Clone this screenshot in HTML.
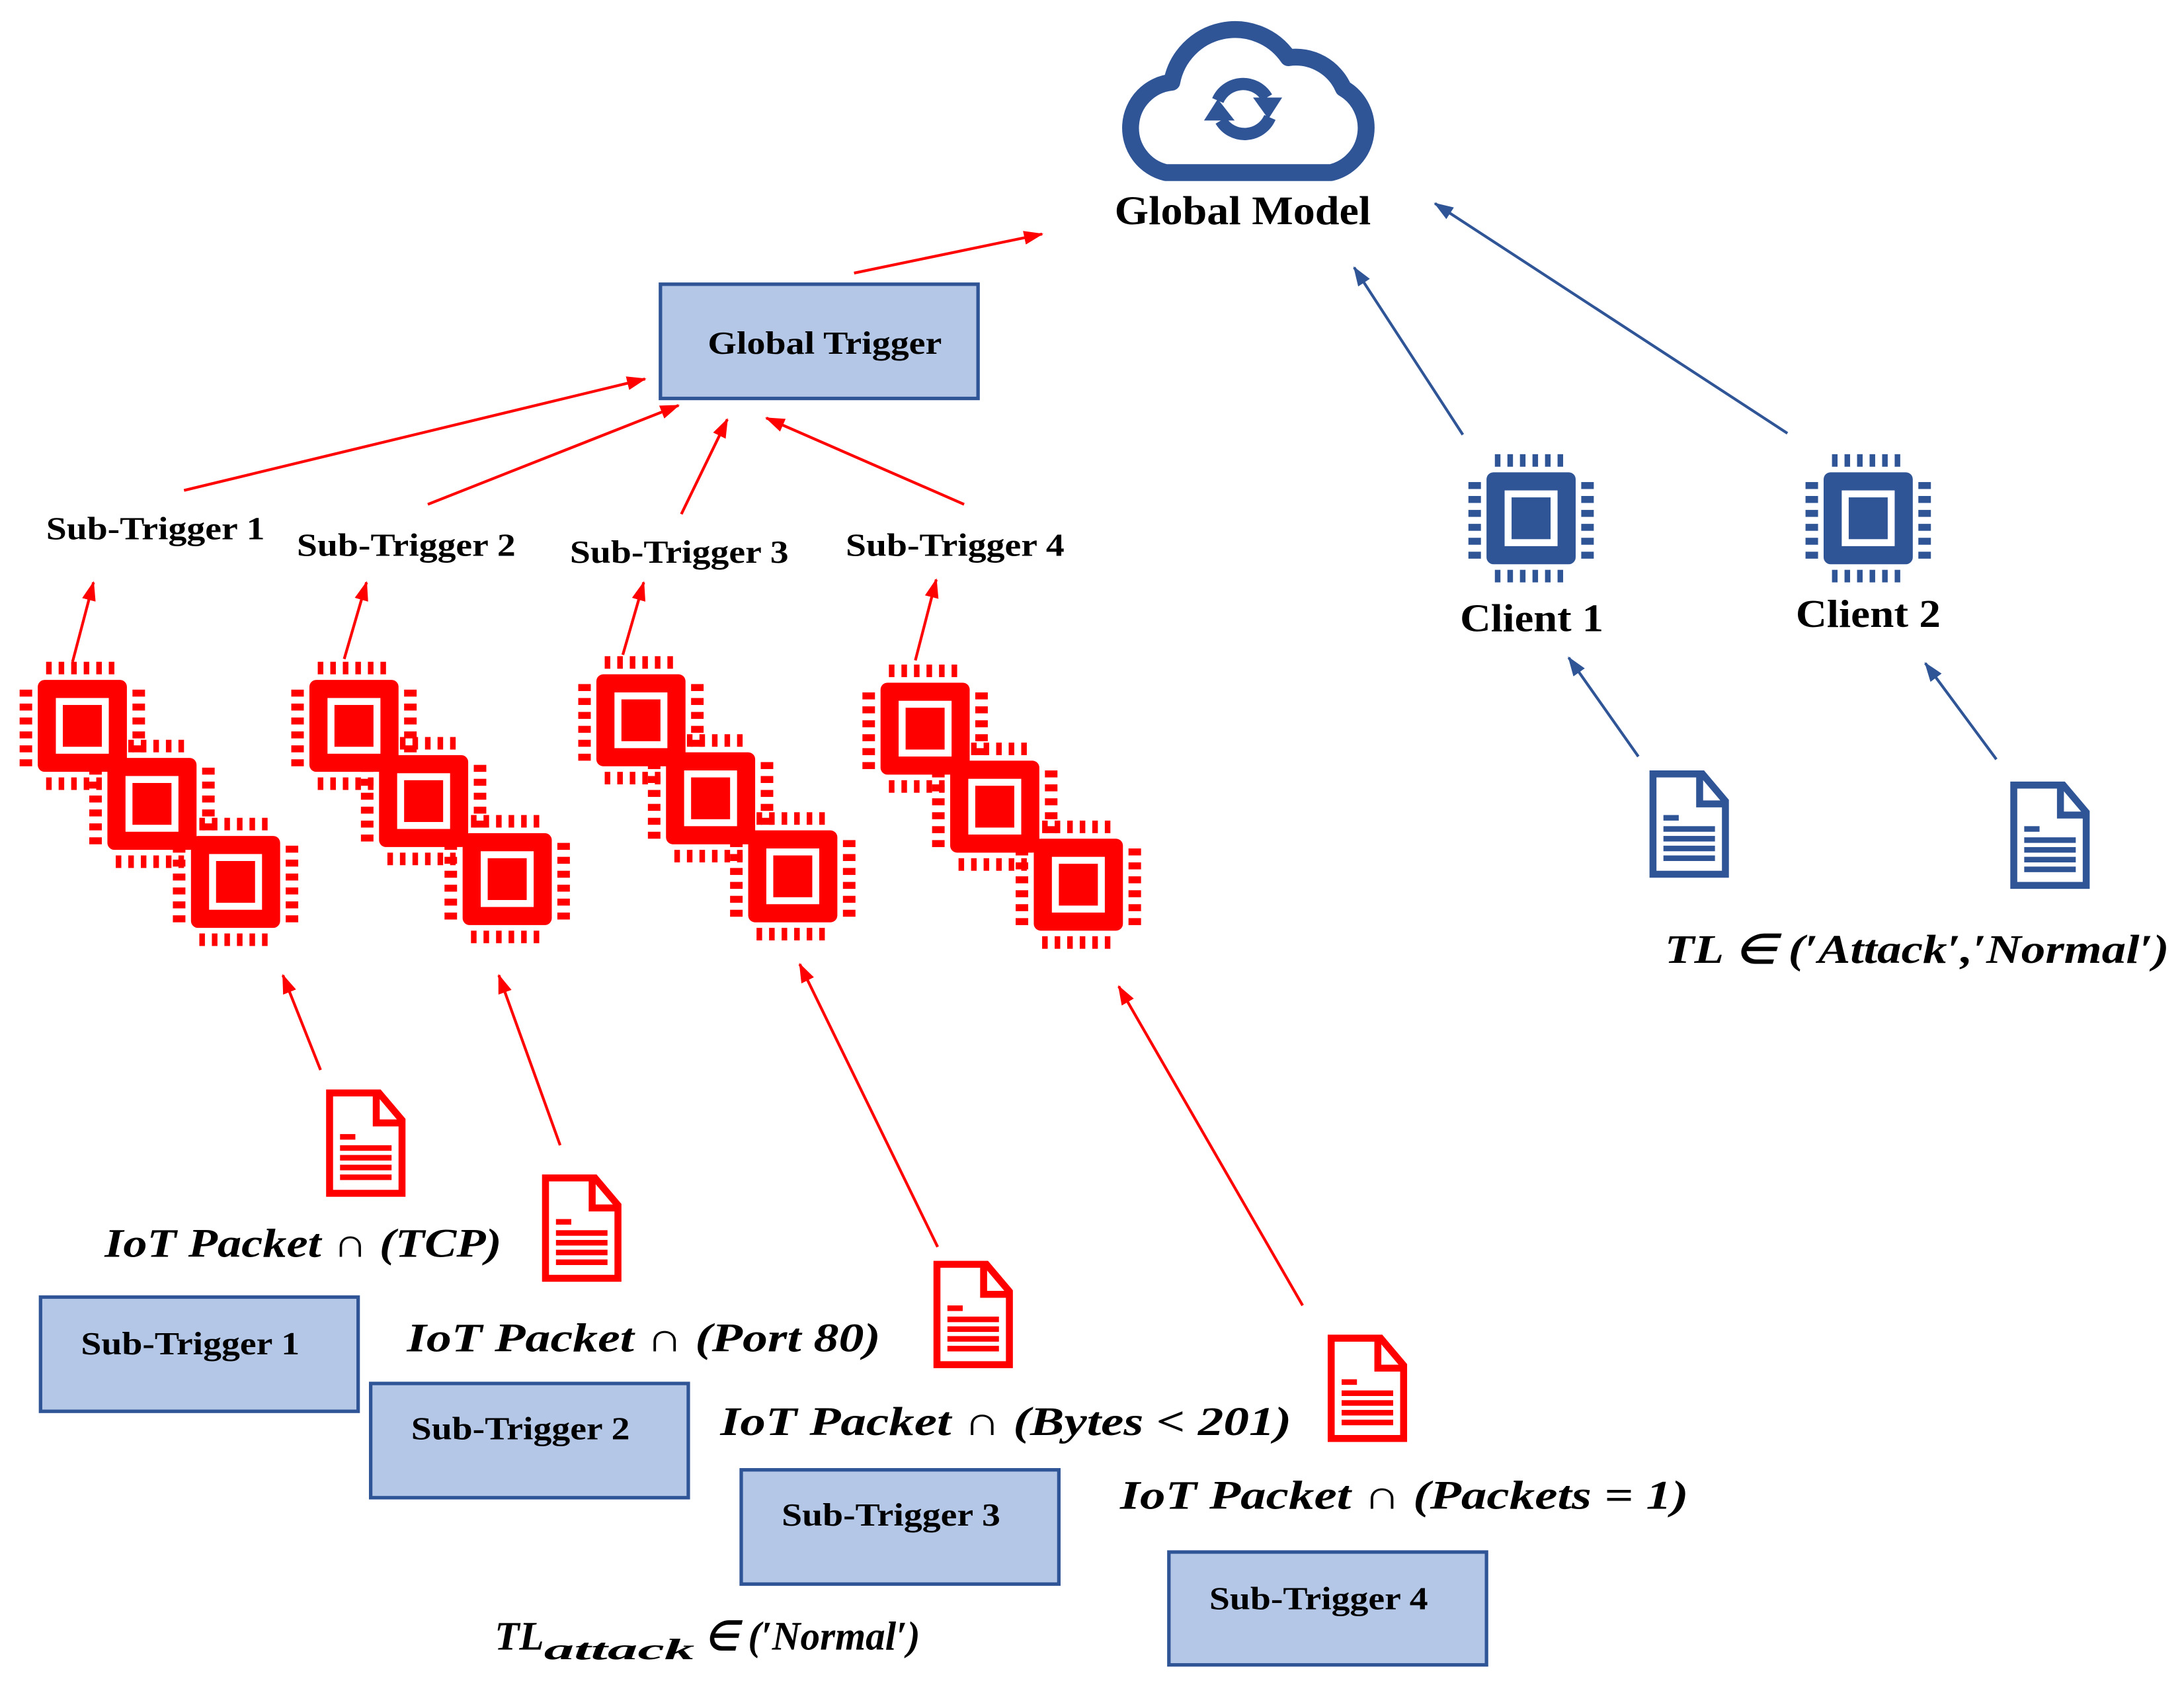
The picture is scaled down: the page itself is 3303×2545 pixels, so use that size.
<!DOCTYPE html>
<html><head><meta charset="utf-8"><style>
html,body{margin:0;padding:0;background:#fff;}
svg{display:block;}
.b{font-family:"Liberation Serif",serif;font-weight:bold;fill:#000;}
.m{font-family:"Liberation Serif",serif;font-weight:bold;font-style:italic;fill:#000;}
</style></head><body>
<svg width="3303" height="2545" viewBox="0 0 1567.6 1208" xmlns="http://www.w3.org/2000/svg">
<defs>
<marker id="ar" markerWidth="14" markerHeight="10" refX="13" refY="5" orient="auto" markerUnits="userSpaceOnUse"><path d="M0,0 L14,5 L0,10 Z" fill="#ff0000"/></marker>
<marker id="ab" markerWidth="14" markerHeight="10" refX="13" refY="5" orient="auto" markerUnits="userSpaceOnUse"><path d="M0,0 L14,5 L0,10 Z" fill="#2f5597"/></marker>
<g id="chipR">
 <g fill="#ff0000">
  <rect x="6" y="-13" width="4" height="9"/><rect x="15" y="-13" width="4" height="9"/><rect x="24" y="-13" width="4" height="9"/><rect x="33" y="-13" width="4" height="9"/><rect x="42" y="-13" width="4" height="9"/><rect x="51" y="-13" width="4" height="9"/>
  <rect x="6" y="70" width="4" height="9"/><rect x="15" y="70" width="4" height="9"/><rect x="24" y="70" width="4" height="9"/><rect x="33" y="70" width="4" height="9"/><rect x="42" y="70" width="4" height="9"/><rect x="51" y="70" width="4" height="9"/>
  <rect x="-13" y="7" width="9" height="5"/><rect x="-13" y="17" width="9" height="5"/><rect x="-13" y="27" width="9" height="5"/><rect x="-13" y="37" width="9" height="5"/><rect x="-13" y="47" width="9" height="5"/><rect x="-13" y="57" width="9" height="5"/>
  <rect x="68" y="7" width="9" height="5"/><rect x="68" y="17" width="9" height="5"/><rect x="68" y="27" width="9" height="5"/><rect x="68" y="37" width="9" height="5"/><rect x="68" y="47" width="9" height="5"/><rect x="68" y="57" width="9" height="5"/>
  <rect x="0" y="0" width="64" height="66" rx="5"/>
 </g>
 <rect x="13" y="13" width="38" height="40" fill="#fff"/>
 <rect x="18" y="18" width="28" height="30" fill="#ff0000"/>
</g>
<g id="chipB">
 <g fill="#2f5597">
  <rect x="6" y="-13" width="4" height="9"/><rect x="15" y="-13" width="4" height="9"/><rect x="24" y="-13" width="4" height="9"/><rect x="33" y="-13" width="4" height="9"/><rect x="42" y="-13" width="4" height="9"/><rect x="51" y="-13" width="4" height="9"/>
  <rect x="6" y="70" width="4" height="9"/><rect x="15" y="70" width="4" height="9"/><rect x="24" y="70" width="4" height="9"/><rect x="33" y="70" width="4" height="9"/><rect x="42" y="70" width="4" height="9"/><rect x="51" y="70" width="4" height="9"/>
  <rect x="-13" y="7" width="9" height="5"/><rect x="-13" y="17" width="9" height="5"/><rect x="-13" y="27" width="9" height="5"/><rect x="-13" y="37" width="9" height="5"/><rect x="-13" y="47" width="9" height="5"/><rect x="-13" y="57" width="9" height="5"/>
  <rect x="68" y="7" width="9" height="5"/><rect x="68" y="17" width="9" height="5"/><rect x="68" y="27" width="9" height="5"/><rect x="68" y="37" width="9" height="5"/><rect x="68" y="47" width="9" height="5"/><rect x="68" y="57" width="9" height="5"/>
  <rect x="0" y="0" width="64" height="66" rx="5"/>
 </g>
 <rect x="13" y="13" width="38" height="40" fill="#fff"/>
 <rect x="18" y="18" width="28" height="30" fill="#2f5597"/>
</g>
<g id="docR">
 <path d="M2.5,2.5 H38 L54.5,22 V74.5 H2.5 Z" fill="#fff" stroke="#ff0000" stroke-width="5"/>
 <path d="M36,2.5 V24 H54.5" fill="none" stroke="#ff0000" stroke-width="5"/>
 <g fill="#ff0000"><rect x="10" y="32" width="11" height="4"/><rect x="10" y="40" width="37" height="4"/><rect x="10" y="47" width="37" height="4"/><rect x="10" y="54" width="37" height="4"/><rect x="10" y="61" width="37" height="4"/></g>
</g>
<g id="docB">
 <path d="M2.5,2.5 H38 L54.5,22 V74.5 H2.5 Z" fill="#fff" stroke="#2f5597" stroke-width="5"/>
 <path d="M36,2.5 V24 H54.5" fill="none" stroke="#2f5597" stroke-width="5"/>
 <g fill="#2f5597"><rect x="10" y="32" width="11" height="4"/><rect x="10" y="40" width="37" height="4"/><rect x="10" y="47" width="37" height="4"/><rect x="10" y="54" width="37" height="4"/><rect x="10" y="61" width="37" height="4"/></g>
</g>
</defs>

<!-- Cloud -->
<g transform="translate(895,70) scale(1.1) translate(-895,-70)">
<path d="M842,119 H950 A30,30 0 0 0 958,64 A34,34 0 0 0 922,44 A42,42 0 0 0 846,60 A30,30 0 0 0 842,119 Z" fill="none" stroke="#2f5597" stroke-width="11" stroke-linejoin="round"/>
<path d="M876,72 A18,18 0 0 1 908,70" fill="none" stroke="#2f5597" stroke-width="8"/>
<path d="M899,70 L918,70 L909,84 Z" fill="#2f5597"/>
<path d="M910,83 A18,18 0 0 1 878,85" fill="none" stroke="#2f5597" stroke-width="8"/>
<path d="M867,85 L887,85 L876,71 Z" fill="#2f5597"/>
</g>
<text class="b" x="800" y="161" font-size="29" textLength="184" lengthAdjust="spacingAndGlyphs">Global Model</text>

<!-- Global Trigger -->
<rect x="474" y="204" width="228" height="82" fill="#b4c7e7" stroke="#2f5597" stroke-width="2.5"/>
<text class="b" x="508" y="254" font-size="23" textLength="168" lengthAdjust="spacingAndGlyphs">Global Trigger</text>

<g stroke="#ff0000" stroke-width="2" marker-end="url(#ar)">
<line x1="613" y1="196" x2="748" y2="168"/>
<line x1="132" y1="352" x2="463" y2="272"/>
<line x1="307" y1="362" x2="487" y2="291"/>
<line x1="489" y1="369" x2="522" y2="301"/>
<line x1="692" y1="362" x2="550" y2="300"/>
<line x1="52" y1="475" x2="67" y2="418"/>
<line x1="247" y1="473" x2="263" y2="418"/>
<line x1="447" y1="470" x2="462" y2="418"/>
<line x1="657" y1="474" x2="672" y2="416"/>
<line x1="230" y1="768" x2="203" y2="700"/>
<line x1="402" y1="822" x2="358" y2="700"/>
<line x1="673" y1="895" x2="574" y2="692"/>
<line x1="935" y1="937" x2="803" y2="708"/>
</g>
<g stroke="#2f5597" stroke-width="2" marker-end="url(#ab)">
<line x1="1050" y1="312" x2="972" y2="192"/>
<line x1="1283" y1="311" x2="1030" y2="146"/>
<line x1="1176" y1="543" x2="1126" y2="472"/>
<line x1="1433" y1="545" x2="1382" y2="476"/>
</g>

<text class="b" x="33" y="387" font-size="23" textLength="157" lengthAdjust="spacingAndGlyphs">Sub-Trigger 1</text>
<text class="b" x="213" y="399" font-size="23" textLength="157" lengthAdjust="spacingAndGlyphs">Sub-Trigger 2</text>
<text class="b" x="409" y="404" font-size="23" textLength="157" lengthAdjust="spacingAndGlyphs">Sub-Trigger 3</text>
<text class="b" x="607" y="399" font-size="23" textLength="157" lengthAdjust="spacingAndGlyphs">Sub-Trigger 4</text>

<use href="#chipR" x="27" y="488"/><use href="#chipR" x="77" y="544"/><use href="#chipR" x="137" y="600"/>
<use href="#chipR" x="222" y="488"/><use href="#chipR" x="272" y="542"/><use href="#chipR" x="332" y="598"/>
<use href="#chipR" x="428" y="484"/><use href="#chipR" x="478" y="540"/><use href="#chipR" x="537" y="596"/>
<use href="#chipR" x="632" y="490"/><use href="#chipR" x="682" y="546"/><use href="#chipR" x="742" y="602"/>

<use href="#chipB" x="1067" y="339"/>
<use href="#chipB" x="1309" y="339"/>
<text class="b" x="1048" y="453" font-size="28" textLength="103" lengthAdjust="spacingAndGlyphs">Client 1</text>
<text class="b" x="1289" y="450" font-size="28" textLength="104" lengthAdjust="spacingAndGlyphs">Client 2</text>

<use href="#docR" x="234" y="782"/>
<use href="#docR" x="389" y="843"/>
<use href="#docR" x="670" y="905"/>
<use href="#docR" x="953" y="958"/>
<use href="#docB" x="1184" y="553"/>
<use href="#docB" x="1443" y="561"/>

<text class="m" x="1195" y="691" font-size="29" textLength="362" lengthAdjust="spacingAndGlyphs">TL ∈ (′Attack′,′Normal′)</text>

<g fill="#b4c7e7" stroke="#2f5597" stroke-width="2.5">
<rect x="29" y="931" width="228" height="82"/>
<rect x="266" y="993" width="228" height="82"/>
<rect x="532" y="1055" width="228" height="82"/>
<rect x="839" y="1114" width="228" height="81"/>
</g>
<text class="b" x="58" y="972" font-size="23" textLength="157" lengthAdjust="spacingAndGlyphs">Sub-Trigger 1</text>
<text class="b" x="295" y="1033" font-size="23" textLength="157" lengthAdjust="spacingAndGlyphs">Sub-Trigger 2</text>
<text class="b" x="561" y="1095" font-size="23" textLength="157" lengthAdjust="spacingAndGlyphs">Sub-Trigger 3</text>
<text class="b" x="868" y="1155" font-size="23" textLength="157" lengthAdjust="spacingAndGlyphs">Sub-Trigger 4</text>

<text class="m" x="75" y="902" font-size="29" textLength="285" lengthAdjust="spacingAndGlyphs">IoT Packet ∩ (TCP)</text>
<text class="m" x="292" y="970" font-size="29" textLength="340" lengthAdjust="spacingAndGlyphs">IoT Packet ∩ (Port 80)</text>
<text class="m" x="517" y="1030" font-size="29" textLength="410" lengthAdjust="spacingAndGlyphs">IoT Packet ∩ (Bytes &lt; 201)</text>
<text class="m" x="804" y="1083" font-size="29" textLength="408" lengthAdjust="spacingAndGlyphs">IoT Packet ∩ (Packets = 1)</text>
<text class="m" x="355" y="1184" font-size="29">TL<tspan font-size="21" dy="7" textLength="108" lengthAdjust="spacingAndGlyphs">attack</tspan><tspan dy="-7" textLength="162" lengthAdjust="spacingAndGlyphs"> ∈ (′Normal′)</tspan></text>
</svg>
</body></html>
